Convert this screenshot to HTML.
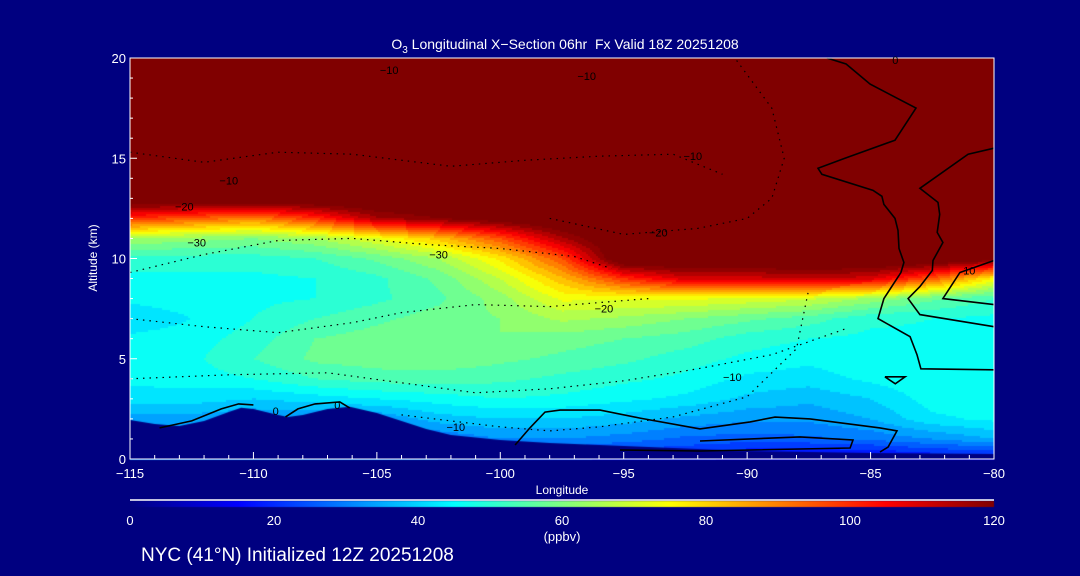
<!DOCTYPE html>
<html><head><meta charset="utf-8"><style>
html,body{margin:0;padding:0;background:#000080;}
#wrap{position:relative;width:1080px;height:576px;overflow:hidden;background:#000080;font-family:"Liberation Sans",sans-serif;}
canvas,svg{position:absolute;left:0;top:0;}
</style></head><body>
<div id="wrap">
<canvas id="field" width="1080" height="576"></canvas>
<svg id="ov" width="1080" height="576"></svg>
</div>
<script>
const lons=[-115,-112.5,-110,-107.5,-105,-102.5,-100,-97.5,-95,-92.5,-90,-87.5,-85,-82.5,-80];
// values per column, altitude 0..20 km (rows), ppbv
const colA=[30,30,34,42,45,46,45,41,45,47,50,64,100,130,130,130,130,130,130,130,130];
const colB=[30,30,34,42,46,47,46,44,46,47,50,62,95,130,130,130,130,130,130,130,130];
const colC=[30,30,32,40,48,52,50,48,47,47,50,60,90,130,130,130,130,130,130,130,130];
const colD=[30,30,32,42,52,57,56,52,48,48,52,64,100,130,130,130,130,130,130,130,130];
const colE=[30,30,32,44,54,58,58,55,51,51,57,72,115,130,130,130,130,130,130,130,130];
const colF=[28,28,38,46,54,59,60,58,55,57,64,82,120,130,130,130,130,130,130,130,130];
const colG=[25,32,40,48,53,57,60,60,62,68,77,96,125,130,130,130,130,130,130,130,130];
const colH=[22,32,40,47,51,55,58,65,73,83,96,115,130,130,130,130,130,130,130,130,130];
const colI=[18,30,38,45,49,53,56,63,73,100,130,130,130,130,130,130,130,130,130,130,130];
const colJ=[18,27,35,43,47,50,54,60,73,110,130,130,130,130,130,130,130,130,130,130,130];
const colK=[14,26,33,39,43,47,50,57,71,110,130,130,130,130,130,130,130,130,130,130,130];
const colL=[12,27,33,37,42,45,48,54,69,112,130,130,130,130,130,130,130,130,130,130,130];
const colM=[12,29,36,40,45,47,47,49,63,110,130,130,130,130,130,130,130,130,130,130,130];
const colN=[15,32,43,46,47,47,47,48,57,95,130,130,130,130,130,130,130,130,130,130,130];
const colO=[15,36,45,47,47,47,47,47,52,75,125,130,130,130,130,130,130,130,130,130,130];
const columns=[colA,colB,colC,colD,colE,colF,colG,colH,colI,colJ,colK,colL,colM,colN,colO];
const terrainLon=[-115,-114,-113,-112,-111,-110.5,-110,-109,-108.6,-108,-107,-106.1,-105,-104,-103,-102,-100,-98,-95,-90,-85,-80];
const terrainAlt=[1.95,1.75,1.65,1.9,2.35,2.55,2.5,2.2,2.1,2.2,2.5,2.6,2.3,1.9,1.5,1.2,0.95,0.8,0.65,0.4,0.3,0.25];
const contourALon=[-86.77,-85.99,-85.02,-83.16,-84.01,-86.04,-87.13,-86.97,-84.90,-84.54,-84.46,-84.01,-83.89,-83.85,-83.65,-83.77,-84.46,-84.70,-83.40,-83.12,-82.96,-80];
const contourAAlt=[20,19.7,18.7,17.5,15.9,15.0,14.5,14.2,13.4,13.1,12.7,12.0,11.4,10.5,9.8,9.3,8.0,7.0,6.1,5.2,4.5,4.45];
const contourBLon=[-80,-81.05,-83.0,-82.27,-82.2,-82.3,-82.07,-82.47,-82.5,-83.0,-83.48,-83.0,-80];
const contourBAlt=[15.5,15.2,13.5,12.8,12.2,11.3,10.8,9.9,9.4,8.6,8.0,7.2,6.6];
const contourCLon=[-80,-81.38,-82.07,-80];
const contourCAlt=[9.9,9.3,8.0,7.7];
const contourDLon=[-99.4,-98.8,-98.19,-97.58,-95.96,-94.34,-91.91,-89.88,-88.87,-87.45,-84.62,-83.93,-84.29,-84.62];
const contourDAlt=[0.7,1.55,2.34,2.44,2.44,2.04,1.5,1.85,2.09,2.0,1.55,1.4,0.6,0.35];
const contourELon=[-91.91,-87.86,-85.71,-85.83,-91.91,-95.15];
const contourEAlt=[0.9,1.1,0.95,0.55,0.4,0.45];
const triLon=[-84.42,-83.6,-84.0,-84.42];
const triAlt=[4.1,4.1,3.75,4.1];
const contourFLon=[-113.8,-112.5,-111.3,-110.6,-110.0];
const contourFAlt=[1.55,1.9,2.5,2.75,2.7];
const contourGLon=[-108.7,-108.2,-107.5,-106.5,-106.1];
const contourGAlt=[2.1,2.5,2.75,2.85,2.55];
// dotted contours
const dot1Lon=[-115,-112,-109,-106,-103,-100,-97,-95.5];
const dot1Alt=[9.3,10.2,10.9,11.0,10.7,10.5,10.1,9.5];
const dot2Lon=[-115,-112,-109,-106,-104,-101,-98,-96,-94];
const dot2Alt=[7.0,6.6,6.3,6.8,7.3,7.7,7.6,7.8,8.0];
const dot3Lon=[-115,-111,-107,-104,-101,-98,-95,-92,-89,-86];
const dot3Alt=[4.0,4.2,4.3,3.8,3.3,3.5,3.9,4.5,5.2,6.5];
const dot4Lon=[-104,-102,-100,-98,-96,-93,-90,-88,-87.5];
const dot4Alt=[2.2,1.9,1.6,1.4,1.6,2.1,3.1,5.5,8.5];
const dot5Lon=[-98,-95,-92,-90,-89,-88.5,-89,-90.5];
const dot5Alt=[12.0,11.2,11.5,12.0,13.0,15.0,17.5,20];
const dot6Lon=[-115,-112,-109,-106,-102,-99,-96,-93,-91];
const dot6Alt=[15.3,14.8,15.3,15.2,14.6,14.9,15.1,15.2,14.2];
const xTicks=[-115,-110,-105,-100,-95,-90,-85,-80];
const xTickLabels=["\u2212115","\u2212110","\u2212105","\u2212100","\u221295","\u221290","\u221285","\u221280"];
const yTicks=[0,5,10,15,20];
const cbTicks=[0,20,40,60,80,100,120];

const X0=130,X1=994,Y0=459,Y1=58;
const xS=l=>X0+(l+115)/35*(X1-X0);
const yS=a=>Y0-a/20*(Y0-Y1);
const xInv=x=>-115+(x-X0)/(X1-X0)*35;
const yInv=y=>(Y0-y)/(Y0-Y1)*20;
function jet(v){let t=Math.max(0,Math.min(1,v/120));
 const c=u=>Math.round(255*Math.max(0,Math.min(1,u)));
 return [c(1.5-Math.abs(4*t-3)),c(1.5-Math.abs(4*t-2)),c(1.5-Math.abs(4*t-1))];}
function val(lon,alt){
 let i=0;while(i<lons.length-2&&lon>lons[i+1])i++;
 let fx=(lon-lons[i])/(lons[i+1]-lons[i]);fx=Math.max(0,Math.min(1,fx));
 let j=Math.min(19,Math.floor(alt));let fy=alt-j;
 const a=columns[i],b=columns[i+1];
 const v0=a[j]*(1-fx)+b[j]*fx, v1=a[j+1]*(1-fx)+b[j+1]*fx;
 return v0*(1-fy)+v1*fy;}
const ctx=document.getElementById('field').getContext('2d');
ctx.fillStyle='#000080';ctx.fillRect(0,0,1080,576);
for(let x=X0;x<X1;x+=2){for(let y=Y1;y<Y0;y+=2){
 let v=val(xInv(x+1),yInv(y+1));v=Math.min(120,Math.floor(v/4)*4+2);
 const c=jet(v);ctx.fillStyle='rgb('+c[0]+','+c[1]+','+c[2]+')';ctx.fillRect(x,y,2,2);}}
ctx.fillStyle='#000080';ctx.beginPath();ctx.moveTo(xS(-115),Y0);
for(let k=0;k<terrainLon.length;k++)ctx.lineTo(xS(terrainLon[k]),yS(terrainAlt[k]));
ctx.lineTo(xS(-80),Y0);ctx.closePath();ctx.fill();
const g=ctx.createLinearGradient(X0,0,X1,0);
for(let s=0;s<=24;s++){const c=jet(s*5);g.addColorStop(s/24,'rgb('+c[0]+','+c[1]+','+c[2]+')');}
ctx.fillStyle=g;ctx.fillRect(X0,501,X1-X0,6);

const NS='http://www.w3.org/2000/svg';const svg=document.getElementById('ov');
function mk(tag,attrs,parent){const e=document.createElementNS(NS,tag);for(const k in attrs)e.setAttribute(k,attrs[k]);(parent||svg).appendChild(e);return e;}
function line(lonA,altA,name,dotted){const pts=lonA.map((l,k)=>xS(l).toFixed(1)+','+yS(altA[k]).toFixed(1)).join(' ');
 const at={points:pts,fill:'none',stroke:'#000','stroke-width':dotted?1.2:1.6};
 if(dotted)at['stroke-dasharray']='1.5 5';
 const e=mk('polyline',at);
 
 }
line(dot1Lon,dot1Alt,'dotted-contour-1',true);
line(dot2Lon,dot2Alt,'dotted-contour-2',true);
line(dot3Lon,dot3Alt,'dotted-contour-3',true);
line(dot4Lon,dot4Alt,'dotted-contour-4',true);
line(dot5Lon,dot5Alt,'dotted-contour-5',true);
line(dot6Lon,dot6Alt,'dotted-contour-6',true);
line(contourALon,contourAAlt,'contour-zero-a');
line(contourBLon,contourBAlt,'contour-zero-b');
line(contourCLon,contourCAlt,'contour-ten');
line(contourDLon,contourDAlt,'contour-zero-d');
line(contourELon,contourEAlt,'contour-zero-e');
line(triLon,triAlt,'contour-triangle');
line(contourFLon,contourFAlt,'contour-zero-f');
line(contourGLon,contourGAlt,'contour-zero-g');
const fr=mk('rect',{x:X0,y:Y1,width:X1-X0,height:Y0-Y1,fill:'none',stroke:'#fff','stroke-width':1});


for(let l=-115;l<=-80;l++){const major=(l%5===0);
 const t=mk('line',{x1:xS(l),x2:xS(l),y1:Y0,y2:Y0-(major?7:4),stroke:'#fff','stroke-width':1});
 
 }
for(let a=0;a<=20;a++){const major=(a%5===0);
 const t=mk('line',{x1:X0,x2:X0+(major?7:3),y1:yS(a),y2:yS(a),stroke:'#fff','stroke-width':1});
 
 }
function txt(s,x,y,size,anchor,name,extra){const e=mk('text',Object.assign({x:x,y:y,'font-size':size,fill:'#fff','text-anchor':anchor||'middle','font-family':'Liberation Sans, sans-serif'},extra||{}));e.textContent=s;
 
 return e;}
xTicks.forEach((l,k)=>txt(xTickLabels[k],xS(l),478,13,'middle','x-tick-label'));
yTicks.forEach(a=>txt(String(a),126,yS(a)+5,13,'end','y-tick-label'));
const bl=mk('line',{x1:X0,x2:X1,y1:500,y2:500,stroke:'#fff','stroke-width':1.5});


cbTicks.forEach(v=>txt(String(v),X0+v/120*(X1-X0),525,13,'middle','colorbar-label'));
txt('(ppbv)',562,541,13,'middle','colorbar-unit');
txt('Longitude',562,494,12,'middle','x-axis-title');
txt('Altitude (km)',0,0,12,'middle','y-axis-title',{transform:'translate(97,258) rotate(-90)'});
const ti=txt('',565,49,14,'middle','chart-title');
ti.innerHTML='O<tspan font-size="10" dy="4">3</tspan><tspan dy="-4"> Longitudinal X\u2212Section 06hr\u00A0\u00A0Fx Valid 18Z 20251208</tspan>';
txt('NYC (41\u00B0N) Initialized 12Z 20251208',141,561,19,'start','footer-caption');
[['\u221220',-112.8,12.6],['\u221230',-112.3,10.8],['\u221210',-111.0,13.9],['\u221230',-102.5,10.2],['\u221220',-95.8,7.5],['\u221210',-90.6,4.1],['\u221210',-101.8,1.6],['\u221220',-93.6,11.3],['\u221210',-92.2,15.1],['\u221210',-104.5,19.4],['\u221210',-96.5,19.1],['0',-109.1,2.4],['0',-106.6,2.7],['10',-81.0,9.4],['0',-84.0,19.9]].forEach(d=>{
 txt(d[0],xS(d[1]),yS(d[2])+4,11,'middle','contour-label',{fill:'#000'});});
</script>
</body></html>
